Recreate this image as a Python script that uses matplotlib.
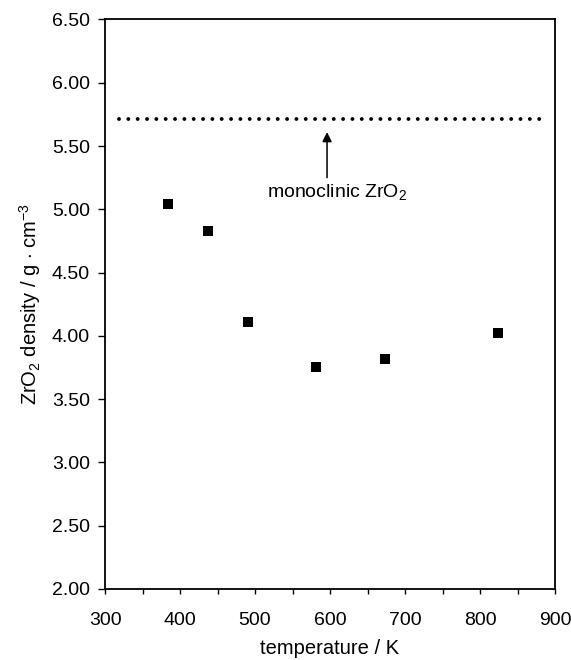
import matplotlib
matplotlib.use("Agg")
import matplotlib.pyplot as plt
from matplotlib.ticker import MultipleLocator, FormatStrFormatter

plt.rcParams['font.family'] = ['Liberation Sans', 'DejaVu Sans']
plt.rcParams['mathtext.fontset'] = 'custom'
plt.rcParams['mathtext.rm'] = 'Liberation Sans'
plt.rcParams['mathtext.it'] = 'Liberation Sans:italic'

# measured ZrO2 densities vs. calcination temperature
temperature = [384, 437, 491, 581, 673, 824]
density = [5.04, 4.83, 4.11, 3.755, 3.82, 4.02]

# reference density of monoclinic zirconia
mono_density = 5.71
mono_span = [318, 885]

fig = plt.figure(figsize=(5.71, 6.60), dpi=100)
ax = fig.add_axes([0.184, 0.1076, 0.788, 0.8629])

ax.plot(temperature, density, linestyle='none', marker='s', markersize=7.5,
        color='black', markeredgewidth=0)

# round-capped zero-length dashes give the dotted line
ax.plot(mono_span, [mono_density, mono_density], color='black', linewidth=2.8,
        linestyle=(0, (0.001, 2.4)), dash_capstyle='round')

ax.annotate('', xy=(596, 5.61), xytext=(596, 5.25),
            arrowprops=dict(arrowstyle='-|>', color='black', lw=1.1,
                            mutation_scale=14, shrinkA=0, shrinkB=0))
ax.text(609, 5.14, 'monoclinic ZrO$_2$', ha='center', va='center', fontsize=14)

ax.set_xlim(300, 900)
ax.set_ylim(2.0, 6.5)
ax.xaxis.set_major_locator(MultipleLocator(100))
ax.xaxis.set_minor_locator(MultipleLocator(50))
ax.yaxis.set_major_locator(MultipleLocator(0.5))
ax.yaxis.set_major_formatter(FormatStrFormatter('%.2f'))

ax.tick_params(axis='x', which='both', direction='out', length=3.5, width=1,
               labelsize=14, pad=13, top=False)
ax.tick_params(axis='y', direction='out', length=5, width=1, labelsize=14,
               pad=6, right=False)

for s in ax.spines.values():
    s.set_linewidth(1.3)

ax.set_xlabel('temperature / K', fontsize=14.5, labelpad=7)
ax.set_ylabel(r'ZrO$_2$ density / g $\cdot$ cm$^{-3}$', fontsize=14.5, labelpad=6)

fig.savefig('out.png', dpi=100)
